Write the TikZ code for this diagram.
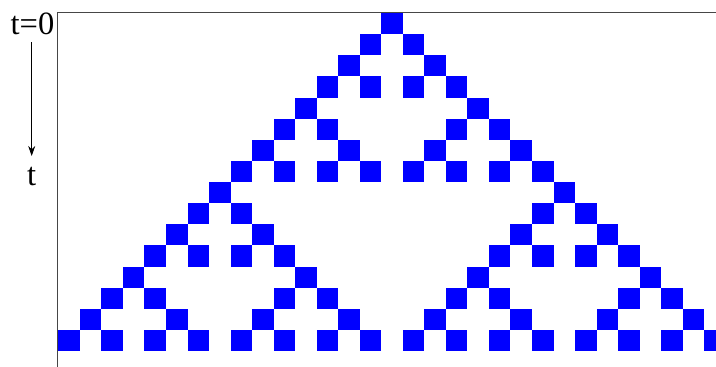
\documentclass[tikz,border=0pt]{standalone}
\usepackage{fontspec}
\setmainfont{Liberation Serif}
\usetikzlibrary{arrows.meta}
\begin{document}
\begin{tikzpicture}[x=1pt,y=-1pt,
  cellbox/.style={fill={rgb,255:red,0;green,0;blue,255}},
  frameline/.style={draw={rgb,255:red,70;green,70;blue,70}, line width=1.4pt},
  lbl/.style={font=\fontsize{32.5}{32.5}\selectfont, inner sep=0pt}]
\useasboundingbox (0,0) rectangle (716,367);
\begin{scope}
\clip (0,0) rectangle (716,367);
\def\cw{21.53}
\def\ch{21.13}
\foreach \r/\ks in {
  0/{0},
  1/{-1,1},
  2/{-2,2},
  3/{-3,-1,1,3},
  4/{-4,4},
  5/{-5,-3,3,5},
  6/{-6,-2,2,6},
  7/{-7,-5,-3,-1,1,3,5,7},
  8/{-8,8},
  9/{-9,-7,7,9},
  10/{-10,-6,6,10},
  11/{-11,-9,-7,-5,5,7,9,11},
  12/{-12,-4,4,12},
  13/{-13,-11,-5,-3,3,5,11,13},
  14/{-14,-10,-6,-2,2,6,10,14},
  15/{-15,-13,-11,-9,-7,-5,-3,-1,1,3,5,7,9,11,13,15}}{
  \foreach \k in \ks {
    \fill[cellbox] ({381.3+\k*\cw},{13+\r*\ch}) rectangle ++(\cw,\ch);
  }
}
\end{scope}
\coordinate (bl) at (57.7,367);
\coordinate (tl) at (57.7,12.6);
\coordinate (tr) at (716,12.6);
\draw[frameline] (bl) -- (tl) -- (tr);
\node[lbl, anchor=base east] (t0) at (54.5,34) {t=0};
\node[lbl, anchor=base] (tt) at (31.7,185.5) {t};
\draw[line width=0.8pt, -{Stealth[length=10pt,width=7pt]}] (31.7,42) -- (31.7,156);
\end{tikzpicture}
\end{document}
